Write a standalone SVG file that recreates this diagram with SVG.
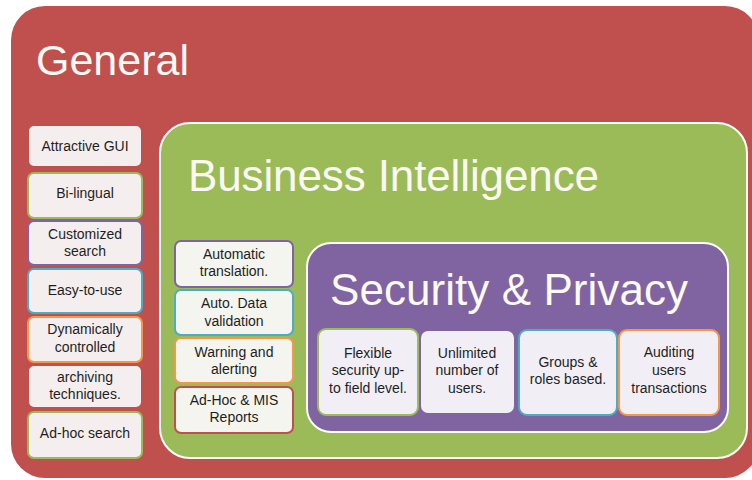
<svg xmlns="http://www.w3.org/2000/svg" width="752" height="480" viewBox="0 0 752 480">
<style>
.title{font-family:"Liberation Sans",Arial,sans-serif;fill:#fbfaf5}
.lbl{font-family:"Liberation Sans",Arial,sans-serif;font-size:14px;fill:#1e1e1e;text-anchor:middle}
.gbox{fill:#f5eeee;stroke-width:2}
.bbox{fill:#f4f5ef;stroke-width:2}
.sbox{fill:#f1eff5;stroke-width:2}
.red{stroke:#c0504d}.green{stroke:#9bbb59}.purple{stroke:#8064a2}.blue{stroke:#4bacc6}.orange{stroke:#f79646}
</style>
<rect width="752" height="480" fill="#ffffff"/>
<g id="general">
<rect x="11" y="6" width="748" height="472" rx="34" fill="#c0504d"/>
<text class="title" x="36" y="75" font-size="43">General</text>
</g>
<g id="business-intelligence">
<rect x="160" y="123" width="587" height="335" rx="30" fill="#9bbb59" stroke="#ffffff" stroke-width="2"/>
<text class="title" x="188" y="191" font-size="44" textLength="411">Business Intelligence</text>
</g>
<g id="security-privacy">
<rect x="307" y="243" width="421" height="189" rx="24" fill="#8064a2" stroke="#ffffff" stroke-width="2"/>
<text class="title" x="330" y="305" font-size="44" textLength="358">Security &amp; Privacy</text>
</g>
<g id="g-attractive-gui"><rect class="gbox red" x="28" y="125" width="114" height="42" rx="6"/><text class="lbl" x="85" y="151">Attractive GUI</text></g>
<g id="g-bi-lingual"><rect class="gbox green" x="28" y="173" width="114" height="45" rx="6"/><text class="lbl" x="85" y="198">Bi-lingual</text></g>
<g id="g-customized-search"><rect class="gbox purple" x="28" y="221" width="114" height="44" rx="6"/><text class="lbl" x="85" y="239">Customized</text><text class="lbl" x="85" y="256">search</text></g>
<g id="g-easy-to-use"><rect class="gbox blue" x="28" y="269" width="114" height="44" rx="6"/><text class="lbl" x="85" y="295">Easy-to-use</text></g>
<g id="g-dynamically-controlled"><rect class="gbox orange" x="28" y="317" width="114" height="45" rx="6"/><text class="lbl" x="85" y="334">Dynamically</text><text class="lbl" x="85" y="352">controlled</text></g>
<g id="g-archiving"><rect class="gbox red" x="28" y="365" width="114" height="43" rx="6"/><text class="lbl" x="85" y="382">archiving</text><text class="lbl" x="85" y="399">techniques.</text></g>
<g id="g-ad-hoc-search"><rect class="gbox green" x="28" y="412" width="114" height="46" rx="6"/><text class="lbl" x="85" y="438">Ad-hoc search</text></g>
<g id="b-automatic-translation"><rect class="bbox purple" x="175" y="241" width="118" height="46" rx="6"/><text class="lbl" x="234" y="259">Automatic</text><text class="lbl" x="234" y="276">translation.</text></g>
<g id="b-auto-data-validation"><rect class="bbox blue" x="175" y="290" width="118" height="45" rx="6"/><text class="lbl" x="234" y="308">Auto. Data</text><text class="lbl" x="234" y="326">validation</text></g>
<g id="b-warning-alerting"><rect class="bbox orange" x="175" y="338" width="118" height="45" rx="6"/><text class="lbl" x="234" y="357">Warning and</text><text class="lbl" x="234" y="374">alerting</text></g>
<g id="b-adhoc-mis-reports"><rect class="bbox red" x="175" y="387" width="118" height="46" rx="6"/><text class="lbl" x="234" y="405">Ad-Hoc &amp; MIS</text><text class="lbl" x="234" y="422">Reports</text></g>
<g id="s-flexible-security"><rect class="sbox green" x="318" y="329" width="100" height="86" rx="8"/><text class="lbl" x="368" y="358">Flexible</text><text class="lbl" x="368" y="375">security up-</text><text class="lbl" x="368" y="393">to field level.</text></g>
<g id="s-unlimited-users"><rect class="sbox purple" x="420" y="330" width="95" height="84" rx="8"/><text class="lbl" x="467" y="358">Unlimited</text><text class="lbl" x="467" y="375">number of</text><text class="lbl" x="467" y="393">users.</text></g>
<g id="s-groups-roles"><rect class="sbox blue" x="519" y="330" width="98" height="85" rx="8"/><text class="lbl" x="568" y="367">Groups &amp;</text><text class="lbl" x="568" y="384">roles based.</text></g>
<g id="s-auditing"><rect class="sbox orange" x="619" y="330" width="100" height="85" rx="8"/><text class="lbl" x="669" y="357">Auditing</text><text class="lbl" x="669" y="375">users</text><text class="lbl" x="669" y="393">transactions</text></g>
<g id="connectors"></g>
</svg>
